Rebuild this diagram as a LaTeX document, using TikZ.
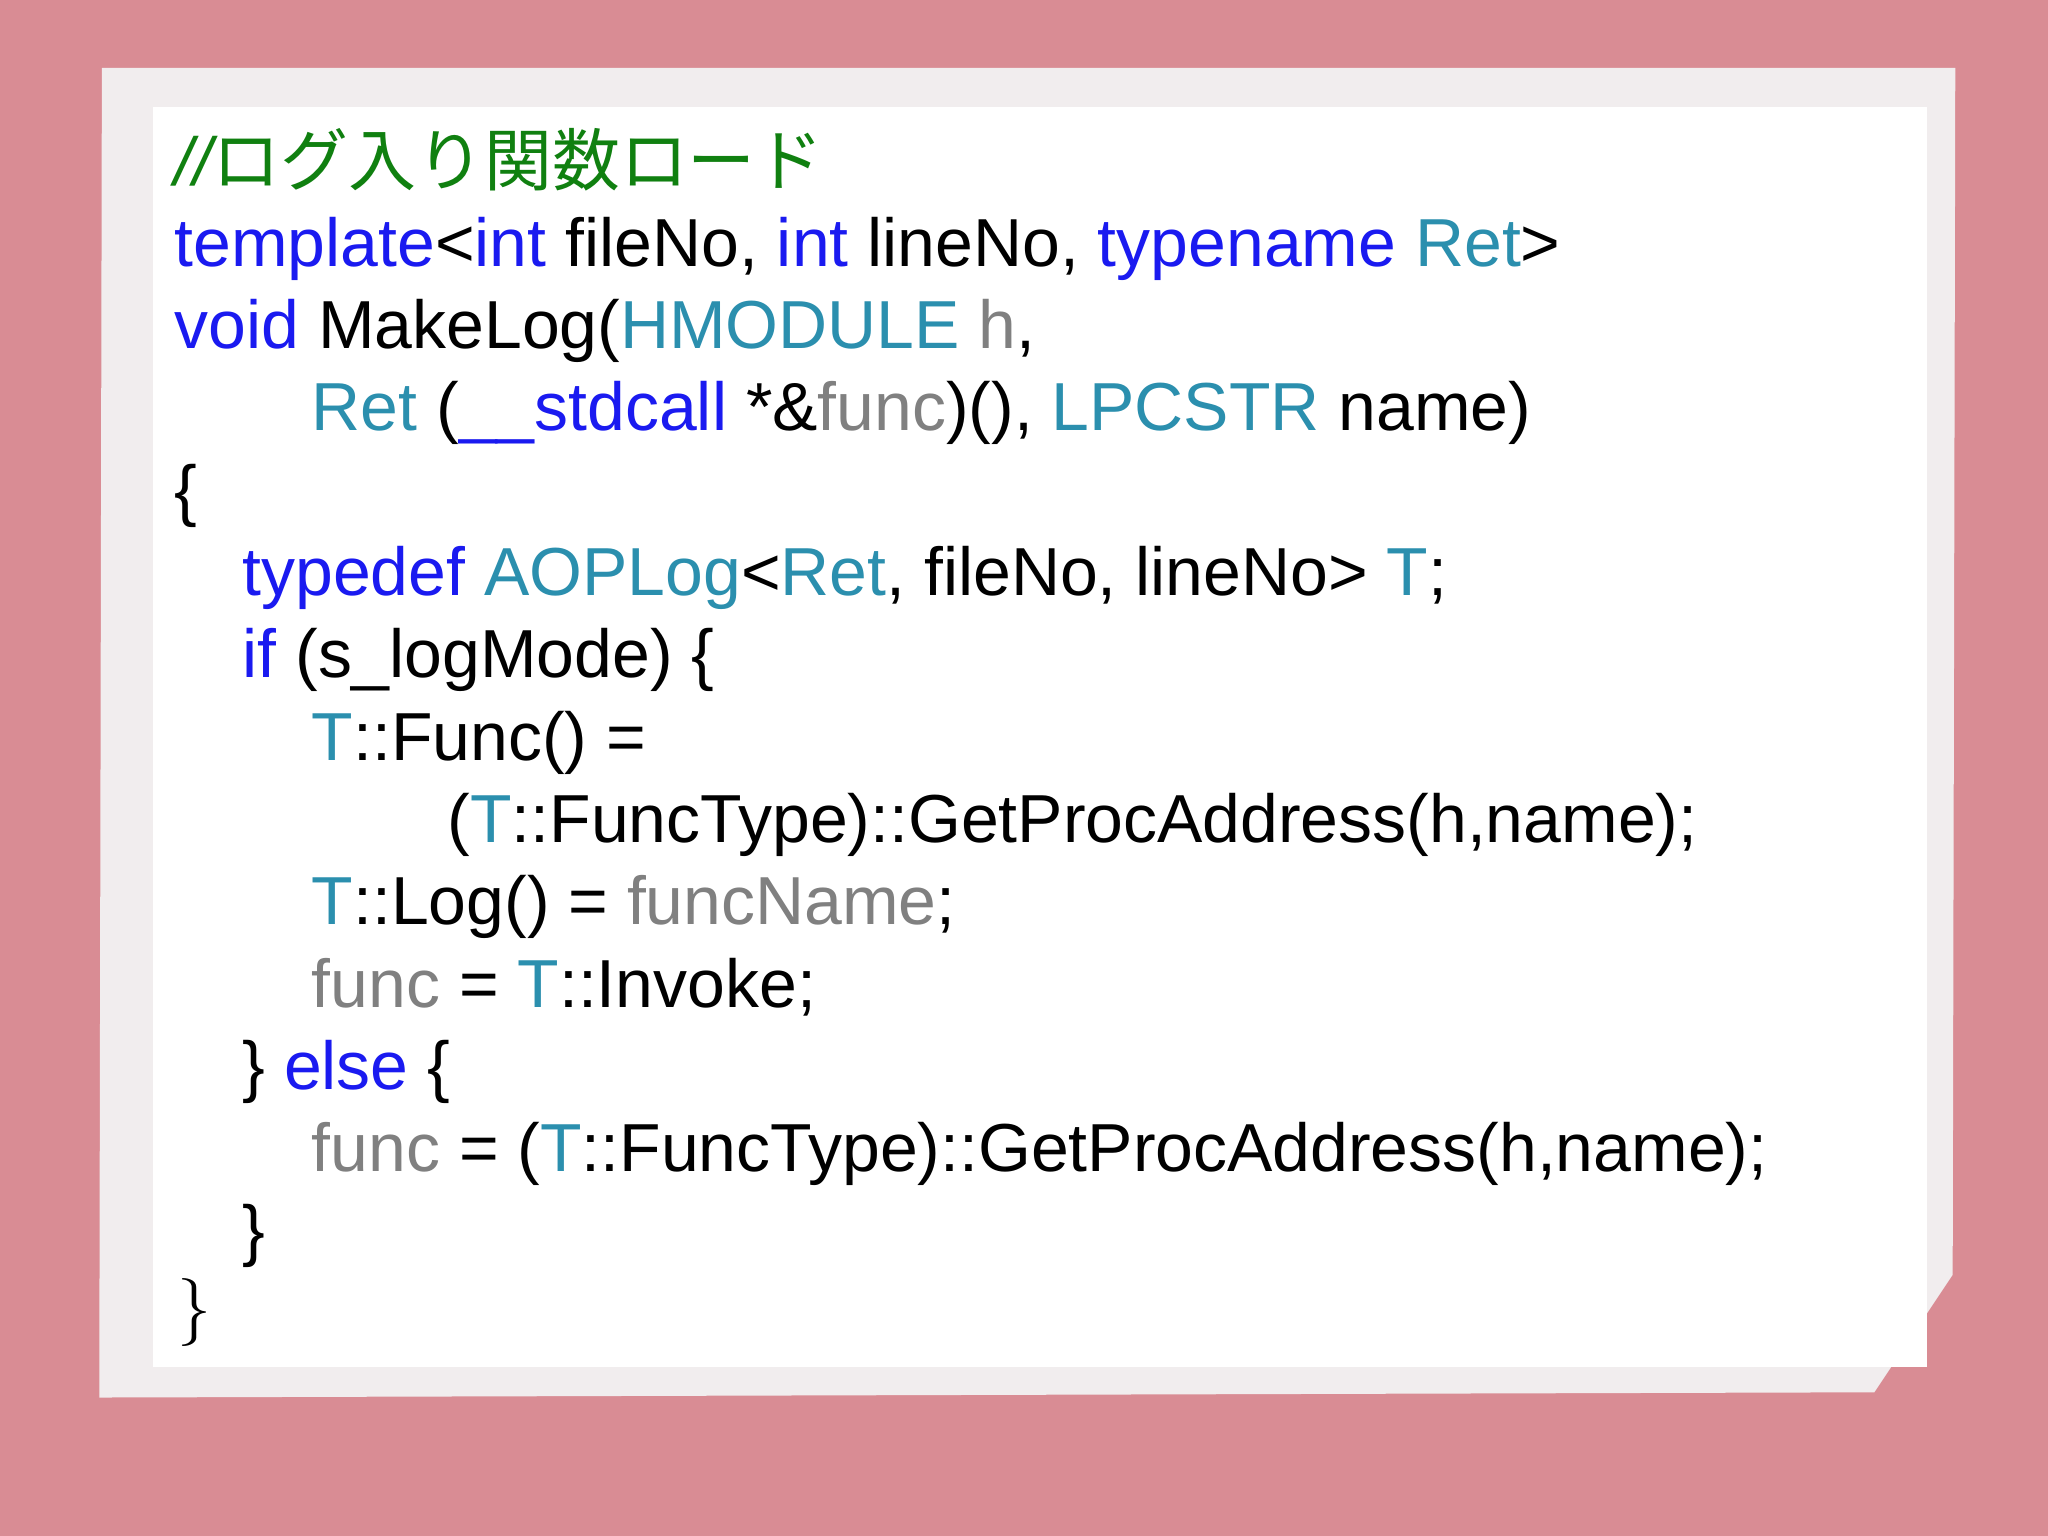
\documentclass[tikz,border=0pt]{standalone}
\usepackage{fontspec}
\setmainfont{Liberation Sans}
\newfontfamily\cjk{Noto Sans CJK JP}
\newfontfamily\serifkw{Latin Modern Roman}
\definecolor{bgpink}{HTML}{D98C94}
\definecolor{paper}{HTML}{F1EDEE}
\definecolor{kwblue}{HTML}{1A1AF0}
\definecolor{tyteal}{HTML}{2B8FAE}
\definecolor{grgray}{HTML}{808080}
\definecolor{cmgreen}{HTML}{108010}
\newcommand{\kw}[1]{\textcolor{kwblue}{#1}}
\newcommand{\ty}[1]{\textcolor{tyteal}{#1}}
\newcommand{\gr}[1]{\textcolor{grgray}{#1}}
\begin{document}
\begin{tikzpicture}[x=1cm,y=1cm,
  code/.style={anchor=base west,inner sep=0pt,font=\fontsize{14.8pt}{18pt}\selectfont,text=black}]
\useasboundingbox (0,0) rectangle (15.68,11.76);
\fill[bgpink] (0,0) rectangle (15.68,11.76);
\fill[paper] (0.78,11.24) -- (14.97,11.24) -- (14.95,2.0) -- (14.35,1.1) -- (0.76,1.06) -- cycle;
\fill[white] (1.17,10.94) rectangle (14.75,1.29);
\node[code] (l1) at (1.33,{(1176-142)/100}) {\textcolor{cmgreen}{\itshape //}\textcolor{cmgreen}{\cjk ログ入り関数ロード}};
\node[code] (l2) at (1.33,{(1176-204)/100}) {\kw{template}<\kw{int} fileNo, \kw{int} lineNo, \kw{typename} \ty{Ret}>};
\node[code] (l3) at (1.33,{(1176-267)/100}) {\kw{void} MakeLog(\ty{HMODULE} \gr{h},};
\node[code] (l4) at (2.38,{(1176-330)/100}) {\ty{Ret} (\kw{\_\_stdcall} *\&\gr{func})(), \ty{LPCSTR} name)};
\node[code] (l5) at (1.33,{(1176-393)/100}) {\{};
\node[code] (l6) at (1.85,{(1176-456)/100}) {\kw{typedef} \ty{AOPLog}<\ty{Ret}, fileNo, lineNo> \ty{T};};
\node[code] (l7) at (1.85,{(1176-519)/100}) {\kw{if} (s\_logMode) \{};
\node[code] (l8) at (2.38,{(1176-582)/100}) {\ty{T}::Func() =};
\node[code] (l9) at (3.42,{(1176-645)/100}) {(\ty{T}::FuncType)::GetProcAddress(h,name);};
\node[code] (l10) at (2.38,{(1176-708)/100}) {\ty{T}::Log() = \gr{funcName};};
\node[code] (l11) at (2.38,{(1176-771)/100}) {\gr{func} = \ty{T}::Invoke;};
\node[code] (l12) at (1.85,{(1176-834)/100}) {\} \kw{else} \{};
\node[code] (l13) at (2.38,{(1176-897)/100}) {\gr{func} = (\ty{T}::FuncType)::GetProcAddress(h,name);};
\node[code] (l14) at (1.85,{(1176-960)/100}) {\}};
\node[code] (l15) at (1.35,{(1176-1018)/100}) {\serifkw\}};
\end{tikzpicture}
\end{document}
